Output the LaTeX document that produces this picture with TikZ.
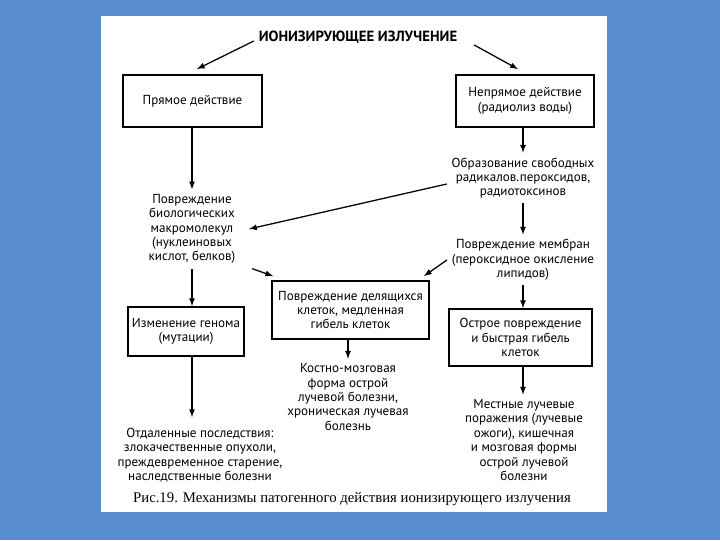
\documentclass[tikz,border=0pt]{standalone}
\usepackage{fontspec}
\setmainfont{PT Sans}
\newfontfamily\capfont{Liberation Serif}
\definecolor{slideblue}{RGB}{90,142,210}

\begin{document}
\begin{tikzpicture}[x=0.025cm,y=-0.025cm,
  box/.style={draw,line width=1.3pt,inner sep=3pt},
  arr/.style={->,>=latex,line width=0.9pt}]
\tikzstyle{every node}=[align=center,font=\fontsize{9.3}{10.2}\selectfont]
% page
\fill[slideblue] (0,0) rectangle (720,540);
\fill[white] (101,16) rectangle (607,512);
% top level
\node[font=\fontsize{10.5}{12}\selectfont\bfseries] (title) at (358,37) {ИОНИЗИРУЮЩЕЕ ИЗЛУЧЕНИЕ};
\node[box,minimum width=3.475cm,minimum height=1.3cm] (direct) at (192.5,101) {Прямое действие};
\node[box,minimum width=3.45cm,minimum height=1.3cm] (indirect) at (525,101) {Непрямое действие\\(радиолиз воды)};
% middle
\node (bio) at (192,229) {Повреждение\\биологических\\макромолекул\\(нуклеиновых\\кислот, белков)};
\node (radicals) at (523,178) {Образование свободных\\радикалов.пероксидов,\\радиотоксинов};
\node (membr) at (523,260) {Повреждение мембран\\(пероксидное окисление\\липидов)};
\node[box,minimum width=2.75cm,minimum height=1.225cm] (genome) at (186,331.5) {Изменение генома\\(мутации)};
\node[box,minimum width=3.925cm,minimum height=1.45cm] (dividing) at (350.5,310) {Повреждение делящихся\\клеток, медленная\\гибель клеток};
\node[box,minimum width=3.575cm,minimum height=1.425cm] (acute) at (520.5,337.5) {Острое повреждение\\и быстрая гибель\\клеток};
% outcomes
\node (marrow) at (348,397) {Костно-мозговая\\форма острой\\лучевой болезни,\\хроническая лучевая\\болезнь};
\node (remote) at (200,455) {Отдаленные последствия:\\злокачественные опухоли,\\преждевременное старение,\\наследственные болезни};
\node (local) at (524,440) {Местные лучевые\\поражения (лучевые\\ожоги), кишечная\\и мозговая формы\\острой лучевой\\болезни};
\node[font=\capfont\fontsize{10.5}{12.5}\selectfont] (caption) at (352,499) {Рис.19. Механизмы патогенного действия ионизирующего излучения};
% arrows
\draw[arr] ([yshift=-1mm]title.west) -- ([xshift=1.1mm,yshift=1.25mm]direct.north);
\draw[arr] ([xshift=3mm,yshift=-2mm]title.east) -- ([xshift=-1.75mm,yshift=1.25mm]indirect.north);
\draw[arr] (direct.south -| bio.north) -- (bio.north);
\draw[arr] (radicals.north |- indirect.south) -- (radicals.north);
\draw[arr] (radicals) -- (membr);
\draw[arr] ([yshift=-1.5mm]radicals.west) -- ([xshift=2.2mm]bio.east);
\draw[arr] ([xshift=3mm]bio.south east) -- ([xshift=0.5mm,yshift=1mm]dividing.north west);
\draw[arr] (membr.west) -- ([xshift=-1.5mm,yshift=1mm]dividing.north east);
\draw[arr] (bio.south) -- (bio.south |- genome.north);
\draw[arr,shorten >=1.5mm] (genome.south -| bio.south) -- (bio.south |- remote.north);
\draw[arr] (dividing.south -| marrow.north) -- (marrow.north);
\draw[arr] (membr.south) -- (membr.south |- acute.north);
\draw[arr] (acute.south -| membr.south) -- (membr.south |- local.north);
\end{tikzpicture}
\end{document}
